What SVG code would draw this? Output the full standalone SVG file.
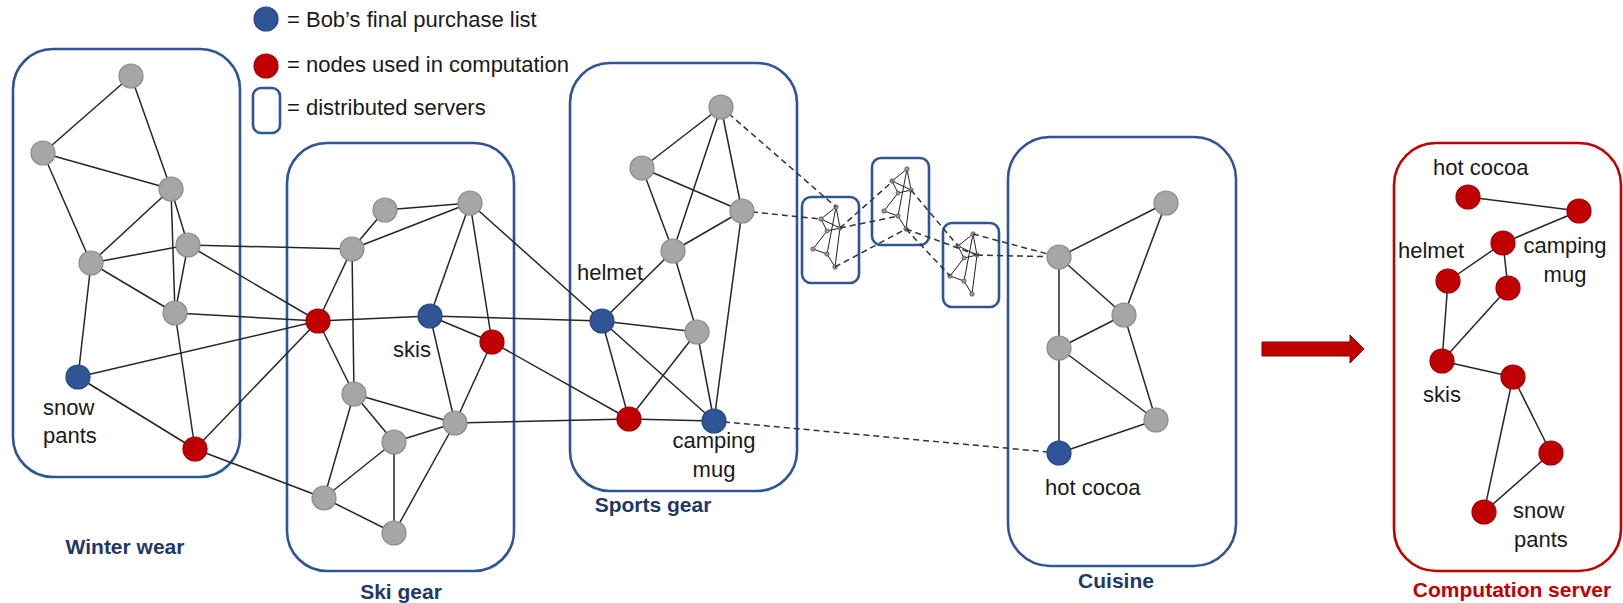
<svg xmlns="http://www.w3.org/2000/svg" xmlns:xlink="http://www.w3.org/1999/xlink" width="1623" height="603" viewBox="0 0 1623 603">
  <defs>
    <style>
      .srv { fill: none; stroke: #2F5597; stroke-width: 2.6; }
      .srv-red { fill: none; stroke: #C00000; stroke-width: 2.6; }
      .edge { stroke: #262626; stroke-width: 1.5; fill: none; }
      .dash { stroke: #333333; stroke-width: 1.5; stroke-dasharray: 6 4; fill: none; }
      .gray { fill: #A6A6A6; stroke: #8A8A8A; stroke-width: 1.2; }
      .blue { fill: #2F5597; stroke: #24467F; stroke-width: 1.2; }
      .red { fill: #C00000; stroke: #9E0000; stroke-width: 1.2; }
      .lbl { font-family: "Liberation Sans", Arial, sans-serif; font-size: 22px; fill: #1A1A1A; }
      .title { font-family: "Liberation Sans", Arial, sans-serif; font-size: 21px; font-weight: bold; fill: #1F3864; text-anchor: middle; }
      .title-red { font-family: "Liberation Sans", Arial, sans-serif; font-size: 21px; font-weight: bold; fill: #C00000; text-anchor: middle; }
      .mini-e { stroke: #222222; stroke-width: 1; fill: none; }
      .mini-n { fill: #9A9A9A; stroke: #555555; stroke-width: 0.8; }
    </style>
    <!-- tiny replica of a server graph, used inside the small boxes -->
    <g id="mini">
      <g class="mini-e">
        <line x1="34" y1="10" x2="19" y2="22"/>
        <line x1="34" y1="10" x2="38" y2="31"/>
        <line x1="34" y1="10" x2="25" y2="57"/>
        <line x1="19" y1="22" x2="38" y2="31"/>
        <line x1="19" y1="22" x2="25" y2="34"/>
        <line x1="38" y1="31" x2="25" y2="34"/>
        <line x1="25" y1="34" x2="11" y2="52"/>
        <line x1="11" y1="52" x2="25" y2="57"/>
        <line x1="25" y1="57" x2="33" y2="70"/>
        <line x1="38" y1="31" x2="33" y2="70"/>
      </g>
      <g class="mini-n">
        <circle cx="34" cy="10" r="2.2"/>
        <circle cx="19" cy="22" r="2.2"/>
        <circle cx="38" cy="31" r="2.2"/>
        <circle cx="25" cy="34" r="2"/>
        <circle cx="11" cy="52" r="2.2"/>
        <circle cx="25" cy="57" r="2.2"/>
        <circle cx="33" cy="70" r="2.2"/>
      </g>
    </g>
  </defs>

  <rect width="1623" height="603" fill="#FFFFFF"/>

  <!-- legend -->
  <g id="legend">
    <circle class="blue" cx="266" cy="19" r="12"/>
    <text class="lbl" x="287" y="27">= Bob’s final purchase list</text>
    <circle class="red" cx="266" cy="66" r="12"/>
    <text class="lbl" x="287" y="72">= nodes used in computation</text>
    <rect class="srv" x="253" y="88" width="27" height="45" rx="8"/>
    <text class="lbl" x="287" y="115">= distributed servers</text>
  </g>

  <!-- server containers -->
  <g id="server-winter">
    <rect class="srv" x="13" y="49" width="227" height="428" rx="40"/>
    <text class="title" x="125" y="554">Winter wear</text>
  </g>
  <g id="server-ski">
    <rect class="srv" x="287" y="143" width="227" height="428" rx="40"/>
    <text class="title" x="401" y="599">Ski gear</text>
  </g>
  <g id="server-sports">
    <rect class="srv" x="570" y="63" width="227" height="428" rx="40"/>
    <text class="title" x="653" y="512">Sports gear</text>
  </g>
  <g id="server-cuisine">
    <rect class="srv" x="1008" y="137" width="228" height="429" rx="42"/>
    <text class="title" x="1116" y="588">Cuisine</text>
  </g>
  <g id="server-computation">
    <rect class="srv-red" x="1394" y="143" width="227" height="428" rx="42"/>
    <text class="title-red" x="1512" y="597">Computation server</text>
  </g>

  <!-- small distributed servers -->
  <g id="mini-server-1">
    <rect class="srv" x="802" y="197" width="57" height="86" rx="9"/>
    <use xlink:href="#mini" href="#mini" x="802" y="197"/>
  </g>
  <g id="mini-server-2">
    <rect class="srv" x="872" y="158" width="57" height="87" rx="9"/>
    <use xlink:href="#mini" href="#mini" x="873" y="159"/>
  </g>
  <g id="mini-server-3">
    <rect class="srv" x="943" y="223" width="56" height="84" rx="9"/>
    <use xlink:href="#mini" href="#mini" x="939" y="224"/>
  </g>

  <!-- connectors -->
  <g id="connectors">
    <g class="edge">
      <!-- winter wear -->
      <line x1="131" y1="76" x2="43" y2="153"/>
      <line x1="131" y1="76" x2="171" y2="189"/>
      <line x1="43" y1="153" x2="171" y2="189"/>
      <line x1="43" y1="153" x2="91" y2="263"/>
      <line x1="171" y1="189" x2="91" y2="263"/>
      <line x1="171" y1="189" x2="188" y2="245"/>
      <line x1="171" y1="189" x2="175" y2="313"/>
      <line x1="188" y1="245" x2="91" y2="263"/>
      <line x1="188" y1="245" x2="175" y2="313"/>
      <line x1="91" y1="263" x2="175" y2="313"/>
      <line x1="91" y1="263" x2="78" y2="377"/>
      <line x1="175" y1="313" x2="195" y2="449"/>
      <line x1="78" y1="377" x2="195" y2="449"/>
      <!-- winter wear to ski gear -->
      <line x1="78" y1="377" x2="318" y2="321"/>
      <line x1="175" y1="313" x2="318" y2="321"/>
      <line x1="195" y1="449" x2="318" y2="321"/>
      <line x1="195" y1="449" x2="324" y2="498"/>
      <line x1="188" y1="245" x2="352" y2="249"/>
      <line x1="188" y1="245" x2="318" y2="321"/>
      <!-- ski gear -->
      <line x1="385" y1="210" x2="470" y2="203"/>
      <line x1="385" y1="210" x2="352" y2="249"/>
      <line x1="352" y1="249" x2="470" y2="203"/>
      <line x1="352" y1="249" x2="318" y2="321"/>
      <line x1="352" y1="249" x2="354" y2="394"/>
      <line x1="470" y1="203" x2="430" y2="316"/>
      <line x1="470" y1="203" x2="492" y2="342"/>
      <line x1="318" y1="321" x2="430" y2="316"/>
      <line x1="318" y1="321" x2="354" y2="394"/>
      <line x1="430" y1="316" x2="492" y2="342"/>
      <line x1="430" y1="316" x2="455" y2="423"/>
      <line x1="492" y1="342" x2="455" y2="423"/>
      <line x1="354" y1="394" x2="455" y2="423"/>
      <line x1="354" y1="394" x2="394" y2="442"/>
      <line x1="354" y1="394" x2="324" y2="498"/>
      <line x1="455" y1="423" x2="394" y2="442"/>
      <line x1="455" y1="423" x2="394" y2="533"/>
      <line x1="394" y1="442" x2="324" y2="498"/>
      <line x1="394" y1="442" x2="394" y2="533"/>
      <line x1="324" y1="498" x2="394" y2="533"/>
      <!-- ski gear to sports gear -->
      <line x1="470" y1="203" x2="602" y2="321"/>
      <line x1="430" y1="316" x2="602" y2="321"/>
      <line x1="492" y1="342" x2="629" y2="419"/>
      <line x1="455" y1="423" x2="629" y2="419"/>
      <!-- sports gear -->
      <line x1="721" y1="107" x2="642" y2="168"/>
      <line x1="721" y1="107" x2="673" y2="251"/>
      <line x1="721" y1="107" x2="742" y2="211"/>
      <line x1="642" y1="168" x2="742" y2="211"/>
      <line x1="642" y1="168" x2="673" y2="251"/>
      <line x1="742" y1="211" x2="673" y2="251"/>
      <line x1="742" y1="211" x2="714" y2="421"/>
      <line x1="673" y1="251" x2="602" y2="321"/>
      <line x1="673" y1="251" x2="697" y2="332"/>
      <line x1="602" y1="321" x2="697" y2="332"/>
      <line x1="602" y1="321" x2="629" y2="419"/>
      <line x1="602" y1="321" x2="714" y2="421"/>
      <line x1="697" y1="332" x2="629" y2="419"/>
      <line x1="697" y1="332" x2="714" y2="421"/>
      <line x1="629" y1="419" x2="714" y2="421"/>
      <!-- cuisine -->
      <line x1="1166" y1="203" x2="1059" y2="257"/>
      <line x1="1166" y1="203" x2="1124" y2="315"/>
      <line x1="1059" y1="257" x2="1124" y2="315"/>
      <line x1="1059" y1="257" x2="1059" y2="348"/>
      <line x1="1124" y1="315" x2="1059" y2="348"/>
      <line x1="1124" y1="315" x2="1156" y2="420"/>
      <line x1="1059" y1="348" x2="1156" y2="420"/>
      <line x1="1059" y1="348" x2="1059" y2="453"/>
      <line x1="1156" y1="420" x2="1059" y2="453"/>
      <!-- computation server -->
      <line x1="1468" y1="197" x2="1579" y2="211"/>
      <line x1="1579" y1="211" x2="1503" y2="243"/>
      <line x1="1503" y1="243" x2="1448" y2="281"/>
      <line x1="1503" y1="243" x2="1508" y2="288"/>
      <line x1="1448" y1="281" x2="1442" y2="361"/>
      <line x1="1508" y1="288" x2="1442" y2="361"/>
      <line x1="1442" y1="361" x2="1513" y2="377"/>
      <line x1="1513" y1="377" x2="1484" y2="512"/>
      <line x1="1513" y1="377" x2="1551" y2="453"/>
      <line x1="1551" y1="453" x2="1484" y2="512"/>
    </g>
    <g class="dash">
      <line x1="721" y1="107" x2="836" y2="207"/>
      <line x1="742" y1="211" x2="821" y2="219"/>
      <line x1="840" y1="228" x2="893" y2="181"/>
      <line x1="840" y1="228" x2="898" y2="216"/>
      <line x1="835" y1="267" x2="906" y2="229"/>
      <line x1="911" y1="190" x2="958" y2="246"/>
      <line x1="906" y1="229" x2="950" y2="276"/>
      <line x1="906" y1="229" x2="977" y2="255"/>
      <line x1="973" y1="234" x2="1059" y2="257"/>
      <line x1="977" y1="255" x2="1059" y2="257"/>
      <line x1="714" y1="421" x2="1059" y2="453"/>
    </g>
  </g>

  <!-- winter wear nodes -->
  <g id="n-w1"><circle class="gray" cx="131" cy="76" r="12"/></g>
  <g id="n-w2"><circle class="gray" cx="43" cy="153" r="12"/></g>
  <g id="n-w3"><circle class="gray" cx="171" cy="189" r="12"/></g>
  <g id="n-w4"><circle class="gray" cx="188" cy="245" r="12"/></g>
  <g id="n-w5"><circle class="gray" cx="91" cy="263" r="12"/></g>
  <g id="n-w6"><circle class="gray" cx="175" cy="313" r="12"/></g>
  <g id="n-snow-pants">
    <circle class="blue" cx="78" cy="377" r="12"/>
    <text class="lbl" x="43" y="415">snow</text>
    <text class="lbl" x="43" y="443">pants</text>
  </g>
  <g id="n-w8"><circle class="red" cx="195" cy="449" r="12"/></g>

  <!-- ski gear nodes -->
  <g id="n-s1"><circle class="gray" cx="385" cy="210" r="12"/></g>
  <g id="n-s2"><circle class="gray" cx="470" cy="203" r="12"/></g>
  <g id="n-s3"><circle class="gray" cx="352" cy="249" r="12"/></g>
  <g id="n-s4"><circle class="red" cx="318" cy="321" r="12"/></g>
  <g id="n-skis">
    <circle class="blue" cx="430" cy="316" r="12"/>
    <text class="lbl" x="393" y="357">skis</text>
  </g>
  <g id="n-s6"><circle class="red" cx="492" cy="342" r="12"/></g>
  <g id="n-s7"><circle class="gray" cx="354" cy="394" r="12"/></g>
  <g id="n-s8"><circle class="gray" cx="455" cy="423" r="12"/></g>
  <g id="n-s9"><circle class="gray" cx="394" cy="442" r="12"/></g>
  <g id="n-s10"><circle class="gray" cx="324" cy="498" r="12"/></g>
  <g id="n-s11"><circle class="gray" cx="394" cy="533" r="12"/></g>

  <!-- sports gear nodes -->
  <g id="n-p1"><circle class="gray" cx="721" cy="107" r="12"/></g>
  <g id="n-p2"><circle class="gray" cx="642" cy="168" r="12"/></g>
  <g id="n-p3"><circle class="gray" cx="742" cy="211" r="12"/></g>
  <g id="n-p4"><circle class="gray" cx="673" cy="251" r="12"/></g>
  <g id="n-helmet">
    <circle class="blue" cx="602" cy="321" r="12"/>
    <text class="lbl" x="577" y="280">helmet</text>
  </g>
  <g id="n-p6"><circle class="gray" cx="697" cy="332" r="12"/></g>
  <g id="n-p7"><circle class="red" cx="629" cy="419" r="12"/></g>
  <g id="n-camping-mug">
    <circle class="blue" cx="714" cy="421" r="12"/>
    <text class="lbl" x="714" y="448" text-anchor="middle">camping</text>
    <text class="lbl" x="714" y="477" text-anchor="middle">mug</text>
  </g>

  <!-- cuisine nodes -->
  <g id="n-c1"><circle class="gray" cx="1166" cy="203" r="12"/></g>
  <g id="n-c2"><circle class="gray" cx="1059" cy="257" r="12"/></g>
  <g id="n-c3"><circle class="gray" cx="1124" cy="315" r="12"/></g>
  <g id="n-c4"><circle class="gray" cx="1059" cy="348" r="12"/></g>
  <g id="n-c5"><circle class="gray" cx="1156" cy="420" r="12"/></g>
  <g id="n-hot-cocoa">
    <circle class="blue" cx="1059" cy="453" r="12"/>
    <text class="lbl" x="1045" y="495">hot cocoa</text>
  </g>

  <!-- transfer arrow -->
  <g id="arrow">
    <polygon points="1262,342 1350,342 1350,335 1364,349 1350,363 1350,356 1262,356" fill="#C00000" stroke="#8C0000" stroke-width="1"/>
  </g>

  <!-- computation server nodes -->
  <g id="r-hot-cocoa">
    <circle class="red" cx="1468" cy="197" r="12"/>
    <text class="lbl" x="1433" y="175">hot cocoa</text>
  </g>
  <g id="r-2"><circle class="red" cx="1579" cy="211" r="12"/></g>
  <g id="r-camping-mug">
    <circle class="red" cx="1503" cy="243" r="12"/>
    <text class="lbl" x="1565" y="253" text-anchor="middle">camping</text>
    <text class="lbl" x="1565" y="282" text-anchor="middle">mug</text>
  </g>
  <g id="r-helmet">
    <circle class="red" cx="1448" cy="281" r="12"/>
    <text class="lbl" x="1398" y="258">helmet</text>
  </g>
  <g id="r-5"><circle class="red" cx="1508" cy="288" r="12"/></g>
  <g id="r-skis">
    <circle class="red" cx="1442" cy="361" r="12"/>
    <text class="lbl" x="1423" y="402">skis</text>
  </g>
  <g id="r-7"><circle class="red" cx="1513" cy="377" r="12"/></g>
  <g id="r-8"><circle class="red" cx="1551" cy="453" r="12"/></g>
  <g id="r-snow-pants">
    <circle class="red" cx="1484" cy="512" r="12"/>
    <text class="lbl" x="1513" y="518">snow</text>
    <text class="lbl" x="1514" y="547">pants</text>
  </g>
</svg>
